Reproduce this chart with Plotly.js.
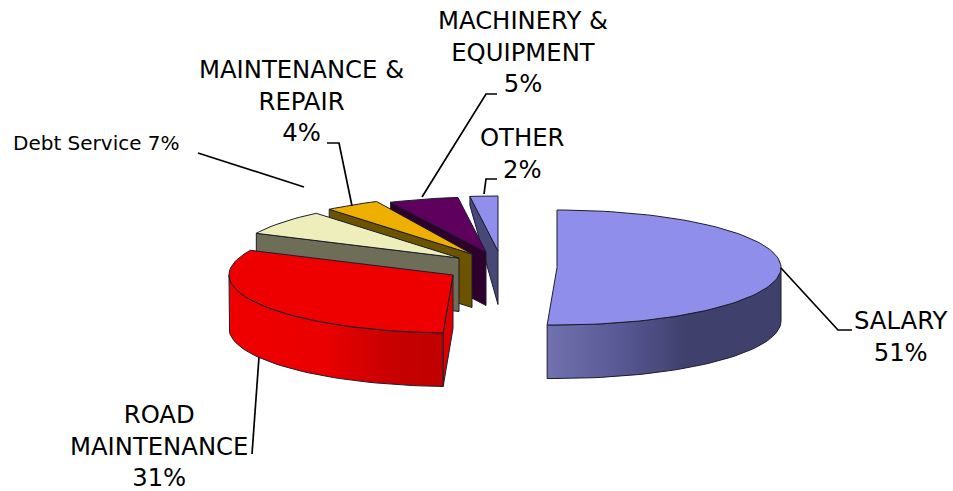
<!DOCTYPE html>
<html><head><meta charset="utf-8">
<script src="https://cdn.plot.ly/plotly-3.0.0.min.js"></script>
<style>html,body{margin:0;padding:0;background:#fff}</style></head>
<body><div id="chart" style="width:953px;height:491px"></div>
<script>
// data
const categories = ["SALARY","ROAD MAINTENANCE","Debt Service","MAINTENANCE & REPAIR","MACHINERY & EQUIPMENT","OTHER"];
const values = [50.7,31.3,7,4,5,2];
const topColors = ["#8F8FEB","#EE0000","#EEEEBB","#EEAF00","#5F005F","#9090EC"];
const wallColors = ["#484878","#D80000","#6E6E58","#6B5300","#2E002E","#484878"];
const rimGradients = [
  [[0,"#7272B0"],[0.35,"#555590"],[0.6,"#40406C"],[1,"#40406C"]],
  [[0,"#F00000"],[0.45,"#EA0000"],[0.75,"#C80000"],[1,"#C00000"]],
  null,null,null,null
];
// layout of the exploded pie: apex of each slice, ellipse radii, extrusion depth
const apexX = [557,453,459,472,486,498];
const apexY = [267.5,275,258,254,252,251];
const radiiY = [57.5,58,58,58,55,55];
const RX = 224, DEPTH = 53.5;

const toRad = d => d*Math.PI/180;
const pt = (i,deg) => [apexX[i]+RX*Math.sin(toRad(deg)), apexY[i]-radiiY[i]*Math.cos(toRad(deg))];
function arc(i,a,b){const n=Math.max(2,Math.ceil(Math.abs(b-a)/2));const o=[];for(let k=0;k<=n;k++)o.push(pt(i,a+(b-a)*k/n));return o;}
const total = values.reduce((s,v)=>s+v,0);
const edges=[0]; values.forEach(v=>edges.push(edges[edges.length-1]+v/total*360));

const EDGE="#1c1c2c";
function poly(points,fill,grad){
  const closed=points.concat([points[0]]);
  const t={type:"scatter",mode:"lines",x:closed.map(p=>p[0]),y:closed.map(p=>p[1]),fill:"toself",
    hoverinfo:"skip",showlegend:false,line:{color:EDGE,width:1}};
  if(grad){t.fillgradient={type:"horizontal",colorscale:grad};t.fillcolor=grad[0][1];}
  else t.fillcolor=fill;
  return t;
}
const down=(p)=>[p[0],p[1]+DEPTH];
const traces=[];
function slice(i){
  const a=edges[i],b=edges[i+1];
  const apex=[apexX[i],apexY[i]];
  if(i>=1){
    const e=pt(i,a);
    // the smallest slice's face narrows behind its neighbour, as in the picture
    const lowE = i===5 ? [e[0],e[1]+9] : down(e);
    traces.push(poly([e,apex,down(apex),lowE], i===1?"#DC0000":wallColors[i]));
  }
  const ra=Math.max(a,90), rb=Math.min(b,270);
  if(rb>ra){
    const top=arc(i,ra,rb);
    const low=top.slice().reverse().map(down);
    traces.push(poly(top.concat(low),wallColors[i],rimGradients[i]));
  }
  traces.push(poly([apex].concat(arc(i,a,b)),topColors[i]));
}
[5,4,3,2,1,0].forEach(slice);

// leader lines
const leaders=[
 [[781,268],[838,330],[852,330]],
 [[259,357],[252,454]],
 [[198,153],[304,187]],
 [[327,143],[339,143],[352,206]],
 [[497,94],[486,94],[422,197]],
 [[497,179],[486,179],[484,194]]
];
leaders.forEach(l=>traces.push({type:"scatter",mode:"lines",x:l.map(p=>p[0]),y:l.map(p=>p[1]),
  hoverinfo:"skip",showlegend:false,line:{color:"#000",width:1.7}}));

const pct=values.map(v=>Math.round(v)+"%");
const FONT="'DejaVu Sans',sans-serif";
const labelTexts=[
 "SALARY<br>"+pct[0],
 "ROAD<br>MAINTENANCE<br>"+pct[1],
 "Debt Service "+pct[2],
 "MAINTENANCE &<br>REPAIR<br>"+pct[3],
 "MACHINERY &<br>EQUIPMENT<br>"+pct[4],
 "OTHER<br>"+pct[5]
];
const labelX=[901,159,96,301,523,522];
const labelY=[336,446,143,101,52,153];
const labelSize=[24.3,24.3,20,24.3,24.3,24.3];
const annotations=labelTexts.map((t,i)=>({text:t,x:labelX[i],y:labelY[i],xref:"x",yref:"y",showarrow:false,
  xanchor:"center",yanchor:"middle",align:"center",font:{family:FONT,size:labelSize[i],color:"#000"}}));

Plotly.newPlot("chart",traces,{
  width:953,height:491,margin:{l:0,r:0,t:0,b:0},paper_bgcolor:"#fff",plot_bgcolor:"#fff",showlegend:false,
  xaxis:{range:[0,953],visible:false,fixedrange:true},
  yaxis:{range:[491,0],visible:false,fixedrange:true},
  annotations
},{staticPlot:true,displayModeBar:false});
</script></body></html>
